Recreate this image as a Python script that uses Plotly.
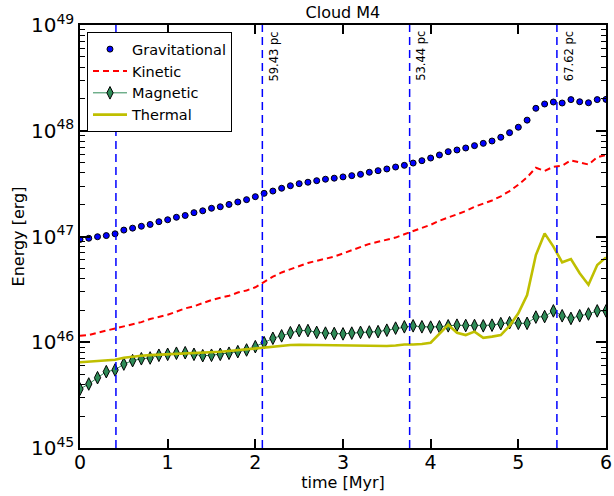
import plotly.graph_objects as go

# Snapshot times [Myr]
times = [0.0, 0.1, 0.2, 0.3, 0.4, 0.5, 0.6, 0.7, 0.8, 0.9,
         1.0, 1.1, 1.2, 1.3, 1.4, 1.5, 1.6, 1.7, 1.8, 1.9,
         2.0, 2.1, 2.2, 2.3, 2.4, 2.5, 2.6, 2.7, 2.8, 2.9,
         3.0, 3.1, 3.2, 3.3, 3.4, 3.5, 3.6, 3.7, 3.8, 3.9,
         4.0, 4.1, 4.2, 4.3, 4.4, 4.5, 4.6, 4.7, 4.8, 4.9,
         5.0, 5.1, 5.2, 5.3, 5.4, 5.5, 5.6, 5.7, 5.8, 5.9, 6.0]

# Energies [erg]
gravitational = [9.38e46, 9.62e46, 9.95e46, 1.02e47, 1.06e47, 1.15e47, 1.20e47, 1.25e47, 1.30e47, 1.38e47,
                 1.44e47, 1.52e47, 1.58e47, 1.68e47, 1.75e47, 1.85e47, 1.91e47, 2.01e47, 2.12e47, 2.23e47,
                 2.38e47, 2.56e47, 2.69e47, 2.86e47, 3.02e47, 3.16e47, 3.26e47, 3.37e47, 3.48e47, 3.56e47,
                 3.66e47, 3.76e47, 3.87e47, 4.05e47, 4.19e47, 4.35e47, 4.54e47, 4.71e47, 4.95e47, 5.21e47,
                 5.52e47, 5.90e47, 6.34e47, 6.58e47, 6.87e47, 7.23e47, 7.60e47, 8.00e47, 8.67e47, 9.59e47,
                 1.08e48, 1.26e48, 1.63e48, 1.79e48, 1.87e48, 1.83e48, 1.97e48, 1.88e48, 1.84e48, 1.97e48, 1.98e48]

kinetic = [1.15e46, 1.17e46, 1.23e46, 1.29e46, 1.35e46, 1.41e46, 1.48e46, 1.55e46, 1.66e46, 1.74e46,
           1.82e46, 1.95e46, 2.09e46, 2.19e46, 2.34e46, 2.51e46, 2.63e46, 2.75e46, 2.95e46, 3.09e46,
           3.31e46, 3.72e46, 4.17e46, 4.57e46, 4.90e46, 5.25e46, 5.62e46, 5.89e46, 6.17e46, 6.46e46,
           6.92e46, 7.41e46, 7.94e46, 8.51e46, 8.91e46, 9.33e46, 9.77e46, 1.05e47, 1.12e47, 1.20e47,
           1.29e47, 1.41e47, 1.51e47, 1.62e47, 1.74e47, 1.91e47, 2.04e47, 2.19e47, 2.40e47, 2.69e47,
           3.09e47, 3.63e47, 4.47e47, 4.17e47, 4.57e47, 4.68e47, 5.25e47, 5.01e47, 4.79e47, 5.62e47, 5.89e47]

magnetic = [3.61e45, 4.03e45, 4.62e45, 5.27e45, 5.47e45, 6.22e45, 6.70e45, 6.98e45, 7.10e45, 7.53e45,
            7.69e45, 7.87e45, 7.96e45, 7.69e45, 7.46e45, 7.53e45, 7.69e45, 7.87e45, 8.15e45, 8.45e45,
            9.08e45, 9.91e45, 1.09e46, 1.15e46, 1.23e46, 1.29e46, 1.29e46, 1.24e46, 1.22e46, 1.21e46,
            1.20e46, 1.22e46, 1.24e46, 1.25e46, 1.26e46, 1.30e46, 1.36e46, 1.40e46, 1.43e46, 1.40e46,
            1.39e46, 1.40e46, 1.43e46, 1.45e46, 1.44e46, 1.44e46, 1.43e46, 1.45e46, 1.50e46, 1.53e46,
            1.51e46, 1.51e46, 1.73e46, 1.75e46, 1.98e46, 1.78e46, 1.68e46, 1.78e46, 1.85e46, 1.98e46, 1.98e46]

thermal = [6.46e45, 6.55e45, 6.65e45, 6.72e45, 6.82e45, 7.14e45, 7.33e45, 7.46e45, 7.55e45, 7.61e45,
           7.66e45, 7.73e45, 7.78e45, 7.87e45, 7.94e45, 8.02e45, 8.13e45, 8.26e45, 8.41e45, 8.58e45,
           8.77e45, 8.98e45, 9.16e45, 9.30e45, 9.42e45, 9.48e45, 9.46e45, 9.42e45, 9.35e45, 9.31e45,
           9.27e45, 9.25e45, 9.25e45, 9.21e45, 9.21e45, 9.21e45, 9.31e45, 9.53e45, 9.53e45, 9.62e45,
           9.91e45, 1.20e46, 1.46e46, 1.23e46, 1.17e46, 1.26e46, 1.10e46, 1.13e46, 1.17e46, 1.43e46,
           1.88e46, 2.80e46, 6.68e46, 1.07e47, 8.02e46, 5.70e46, 6.12e46, 4.49e46, 3.50e46, 5.37e46, 6.35e46]

# Epochs marked with vertical lines and their cloud sizes
event_times = [0.41, 2.08, 3.76, 5.44]
event_labels = [None, "59.43 pc", "53.44 pc", "67.62 pc"]

x_ticks = [0, 1, 2, 3, 4, 5, 6]
y_exponents = [45, 46, 47, 48, 49]

FONT = "DejaVu Sans"

fig = go.Figure()

fig.add_trace(go.Scatter(
    x=times, y=gravitational, name="Gravitational", mode="markers",
    legendgroup="g1",
    marker=dict(symbol="circle", size=6, color="#0000ff", line=dict(color="black", width=1)),
))
fig.add_trace(go.Scatter(
    x=times, y=kinetic, name="Kinetic", mode="lines",
    legendgroup="g2",
    line=dict(color="#ff0000", width=2, dash="6px,4px"),
))
fig.add_trace(go.Scatter(
    x=times, y=magnetic, name="Magnetic", mode="lines+markers",
    legendgroup="g3",
    line=dict(color="#2e8b57", width=1),
    marker=dict(symbol="diamond-tall", size=9, color="#2e8b57", line=dict(color="black", width=1)),
))
fig.add_trace(go.Scatter(
    x=times, y=thermal, name="Thermal", mode="lines",
    legendgroup="g4",
    line=dict(color="#bfbf00", width=2.6),
))

for t, lab in zip(event_times, event_labels):
    fig.add_shape(type="line", xref="x", yref="paper", x0=t, x1=t, y0=0, y1=1,
                  line=dict(color="#0000ff", width=1.5, dash="8px,5px"), layer="above")
    if lab:
        fig.add_annotation(x=t, xref="x", y=0.99, yref="paper", text=lab,
                           textangle=-90, showarrow=False, xanchor="left", yanchor="top",
                           xshift=3, font=dict(family=FONT, size=11.5, color="black"))

minor_y = [float(m) * 10.0 ** e for e in y_exponents[:-1] for m in range(2, 10)]

fig.update_layout(
    width=614, height=496,
    margin=dict(l=80, r=8, t=25, b=48),
    paper_bgcolor="white", plot_bgcolor="white",
    font=dict(family=FONT, size=16, color="black"),
    title=dict(text="Cloud M4", x=0.5585, xanchor="center", y=0.975, yanchor="middle",
               font=dict(family=FONT, size=16, color="black")),
    showlegend=True,
    legend=dict(x=0.0133, y=0.983, xanchor="left", yanchor="top",
                bgcolor="white", bordercolor="black", borderwidth=1,
                font=dict(family=FONT, size=14.5, color="black"),
                tracegroupgap=0, itemwidth=34),
)

fig.update_xaxes(
    range=[0, 6], tickvals=x_ticks, ticktext=[str(v) for v in x_ticks],
    ticks="inside", ticklen=9, tickwidth=1.5, tickcolor="black",
    showline=True, linecolor="black", linewidth=1.5, mirror="allticks",
    showgrid=False, zeroline=False, automargin=False,
    ticklabelstandoff=-4,
    tickfont=dict(family=FONT, size=19, color="black"),
    title=dict(text="time [Myr]", standoff=4, font=dict(family=FONT, size=16, color="black")),
)

fig.update_yaxes(
    type="log", range=[45, 49],
    tickvals=[10.0 ** e for e in y_exponents],
    ticktext=["10<sup>%d</sup>" % e for e in y_exponents],
    ticks="inside", ticklen=10, tickwidth=1.5, tickcolor="black",
    minor=dict(tickvals=minor_y, ticks="inside", ticklen=5, tickwidth=1, tickcolor="black", showgrid=False),
    showline=True, linecolor="black", linewidth=1.5, mirror="allticks",
    showgrid=False, zeroline=False, automargin=False,
    tickfont=dict(family=FONT, size=20, color="black"),
    title=dict(text="Energy [erg]", standoff=2, font=dict(family=FONT, size=16, color="black")),
)

fig.write_html("out.html")
